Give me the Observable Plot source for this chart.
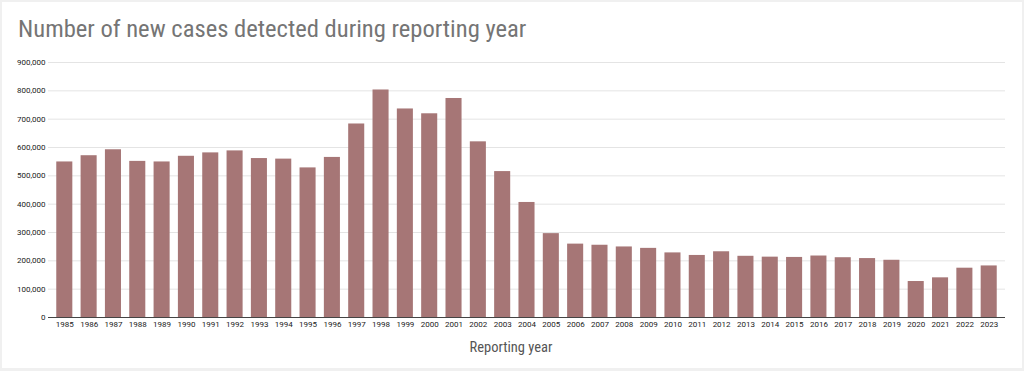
<!DOCTYPE html>
<html>
<head>
<meta charset="utf-8">
<script src="https://cdn.jsdelivr.net/npm/d3@7"></script>
<script src="https://cdn.jsdelivr.net/npm/@observablehq/plot@0.6"></script>
<style>
  html, body { margin: 0; padding: 0; }
  body { width: 1024px; height: 371px; background: #f0f0f0; position: relative; overflow: hidden; }
  #card { position: absolute; left: 2px; top: 2px; width: 1020px; height: 366px; background: #fff; }
  #chart { position: absolute; left: 0; top: 0; }
  #title { position: absolute; left: 18px; top: 14px; font-family: "Liberation Sans Narrow", "Roboto Condensed", Roboto, sans-serif; font-size: 24.6px; color: #757575; white-space: nowrap; }
  #xlabel { position: absolute; left: 511px; top: 339px; transform: translateX(-50%); font-family: "Liberation Sans Narrow", "Roboto Condensed", Roboto, sans-serif; font-size: 14.5px; color: #555; white-space: nowrap; }
</style>
</head>
<body>
<div id="card"></div>
<div id="chart"></div>
<div id="title">Number of new cases detected during reporting year</div>
<div id="xlabel">Reporting year</div>
<script>
const years = [1985,1986,1987,1988,1989,1990,1991,1992,1993,1994,1995,1996,1997,1998,1999,2000,2001,2002,2003,2004,2005,2006,2007,2008,2009,2010,2011,2012,2013,2014,2015,2016,2017,2018,2019,2020,2021,2022,2023];
const cases = [549000,571000,592000,551000,549000,569000,581000,588000,561000,559000,528000,565000,683000,803000,736000,719000,773000,620000,515000,406000,296000,259000,255000,249000,244000,228000,219000,232000,216000,213000,212000,217000,211000,208000,202000,127000,140000,174000,182000];
const yTicks = [0,100000,200000,300000,400000,500000,600000,700000,800000,900000];

const data = years.map((y, i) => ({year: String(y), value: cases[i]}));

const chart = Plot.plot({
  width: 1024,
  height: 371,
  marginTop: 62,
  marginBottom: 54,
  marginLeft: 48,
  marginRight: 19,
  style: {background: "transparent", fontFamily: "Roboto, sans-serif", fontSize: "8px", color: "#222"},
  x: {domain: years.map(String), paddingInner: 0.34, paddingOuter: 0.34, round: false, label: null},
  y: {domain: [0, 900000], label: null},
  marks: [
    Plot.gridY(yTicks.filter(d => d > 0), {stroke: "#e4e4e4", strokeOpacity: 1}),
    Plot.barY(data, {x: "year", y: "value", fill: "#a67676"}),
    Plot.ruleY([0], {stroke: "#444", strokeWidth: 1}),
    Plot.axisY({ticks: yTicks, tickSize: 0, tickPadding: 3, tickFormat: d => d3.format(",")(d), label: null, fontSize: 8}),
    Plot.axisX({tickSize: 0, tickPadding: 4, label: null, fontSize: 8})
  ]
});
document.getElementById("chart").appendChild(chart);
</script>
</body>
</html>
